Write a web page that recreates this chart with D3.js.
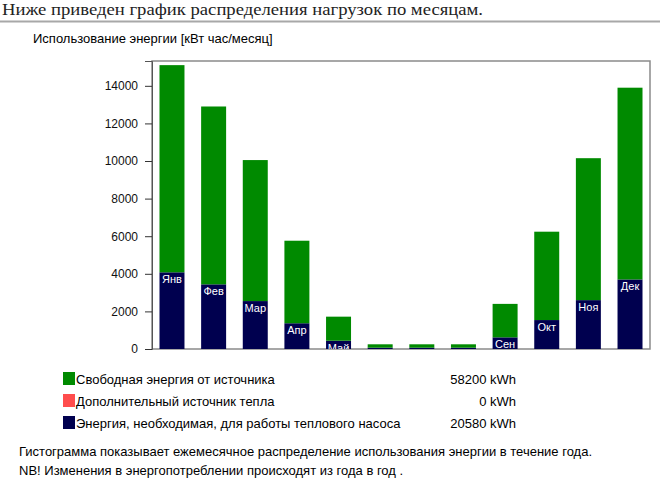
<!DOCTYPE html>
<html>
<head>
<meta charset="utf-8">
<script src="https://cdn.jsdelivr.net/npm/d3@7"></script>
<style>
  body { margin: 0; background: #fff; }
  svg { display: block; }
</style>
</head>
<body>
<svg id="chart" width="660" height="487"></svg>
<script>
// monthly values, kWh
const months = ["Янв", "Фев", "Мар", "Апр", "Май", "Июн", "Июл", "Авг", "Сен", "Окт", "Ноя", "Дек"];
const pumpEnergy = [4080, 3440, 2550, 1370, 440, 70, 70, 70, 620, 1540, 2600, 3700];
const freeEnergy = [11020, 9460, 7500, 4390, 1280, 180, 180, 180, 1780, 4700, 7550, 10200];
const extraHeat = [0, 0, 0, 0, 0, 0, 0, 0, 0, 0, 0, 0];
const yTicks = [0, 2000, 4000, 6000, 8000, 10000, 12000, 14000];
const yMax = 15320;

const legendNames = ["Свободная энергия от источника", "Дополнительный источник тепла", "Энергия, необходимая, для работы теплового насоса"];
const legendTotals = ["58200 kWh", "0 kWh", "20580 kWh"];
const colors = ["#008a00", "#ff4d4d", "#00004f"];

var svg = d3.select("#chart"),
    margin = {top: 61, right: 10, bottom: 138, left: 152},
    width = svg.attr("width") - margin.left - margin.right,
    height = svg.attr("height") - margin.top - margin.bottom;

// heading + rule
svg.append("text")
    .attr("x", 2).attr("y", 15)
    .attr("textLength", 481).attr("lengthAdjust", "spacingAndGlyphs")
    .style("font-family", "'Liberation Serif', 'DejaVu Serif', serif")
    .style("font-size", "16px")
    .style("fill", "#222")
    .text("Ниже приведен график распределения нагрузок по месяцам.");

svg.append("line")
    .attr("x1", 0).attr("x2", 660).attr("y1", 21.5).attr("y2", 21.5)
    .style("stroke", "#a8a8a8").style("stroke-width", 2);

svg.append("text")
    .attr("x", 33).attr("y", 43)
    .style("font-family", "'Liberation Sans', Arial, sans-serif")
    .style("font-size", "13px")
    .text("Использование энергии [кВт час/месяц]");

var x = d3.scaleBand()
    .domain(months)
    .range([0, width])
    .paddingInner(0.4)
    .paddingOuter(0.18);

var y = d3.scaleLinear()
    .domain([0, yMax])
    .range([height, 0]);

var g = svg.append("g")
    .attr("transform", "translate(" + margin.left + "," + margin.top + ")");

g.append("defs").append("clipPath").attr("id", "plotClip")
  .append("rect").attr("width", width).attr("height", height);

// frame
g.append("rect")
    .attr("width", width).attr("height", height)
    .style("fill", "none").style("stroke", "#8a8a8a").style("stroke-width", 1.5);

var yAxis = g.append("g")
    .call(d3.axisLeft(y).tickValues(yTicks).tickSize(7).tickPadding(7).tickFormat(d3.format("d")));
yAxis.select(".domain").style("stroke", "#555");
yAxis.selectAll(".tick line").style("stroke", "#333");
yAxis.selectAll("text")
    .style("font-family", "'Liberation Sans', Arial, sans-serif")
    .style("font-size", "12px")
    .style("fill", "#111");

// stacked: pump energy at bottom, extra heat, free energy on top
var table = months.map(function(m, i) {
  return {month: m, pump: pumpEnergy[i], extra: extraHeat[i], free: freeEnergy[i]};
});
var stack = d3.stack().keys(["pump", "extra", "free"])(table);
var keyColor = {pump: colors[2], extra: colors[1], free: colors[0]};

var bars = g.append("g").attr("clip-path", "url(#plotClip)");

bars.selectAll("g.series")
    .data(stack).enter().append("g")
    .attr("class", "series")
    .style("fill", function(s) { return keyColor[s.key]; })
  .selectAll("rect")
    .data(function(s) { return s; }).enter().append("rect")
    .attr("x", function(d) { return x(d.data.month); })
    .attr("width", x.bandwidth())
    .attr("y", function(d) { return y(d[1]); })
    .attr("height", function(d) { return y(d[0]) - y(d[1]); });

bars.selectAll("text.month")
    .data(table).enter().append("text")
    .attr("class", "month")
    .attr("x", function(d) { return x(d.month) + x.bandwidth() / 2; })
    .attr("y", function(d) { return y(d.pump) + 11; })
    .attr("text-anchor", "middle")
    .style("font-family", "'Liberation Sans', Arial, sans-serif")
    .style("font-size", "11px")
    .style("fill", "#fff")
    .text(function(d) { return d.month; });

// legend
var legend = svg.append("g")
    .selectAll("g").data(legendNames).enter().append("g")
    .attr("transform", function(d, i) { return "translate(63," + (372 + i * 22) + ")"; });

legend.append("rect")
    .attr("width", 12).attr("height", 13)
    .style("fill", function(d, i) { return colors[i]; });

legend.append("text")
    .attr("x", 13).attr("y", 12)
    .style("font-family", "'Liberation Sans', Arial, sans-serif")
    .style("font-size", "13px")
    .text(function(d) { return d; });

legend.append("text")
    .attr("x", 453).attr("y", 12)
    .attr("text-anchor", "end")
    .style("font-family", "'Liberation Sans', Arial, sans-serif")
    .style("font-size", "13px")
    .text(function(d, i) { return legendTotals[i]; });

var notes = ["Гистограмма показывает ежемесячное распределение использования энергии в течение года.",
             "NB! Изменения в энергопотреблении происходят из года в год ."];
svg.append("g").selectAll("text")
    .data(notes).enter().append("text")
    .attr("x", 19)
    .attr("y", function(d, i) { return 456 + i * 19; })
    .style("font-family", "'Liberation Sans', Arial, sans-serif")
    .style("font-size", "13px")
    .text(function(d) { return d; });
</script>
</body>
</html>
